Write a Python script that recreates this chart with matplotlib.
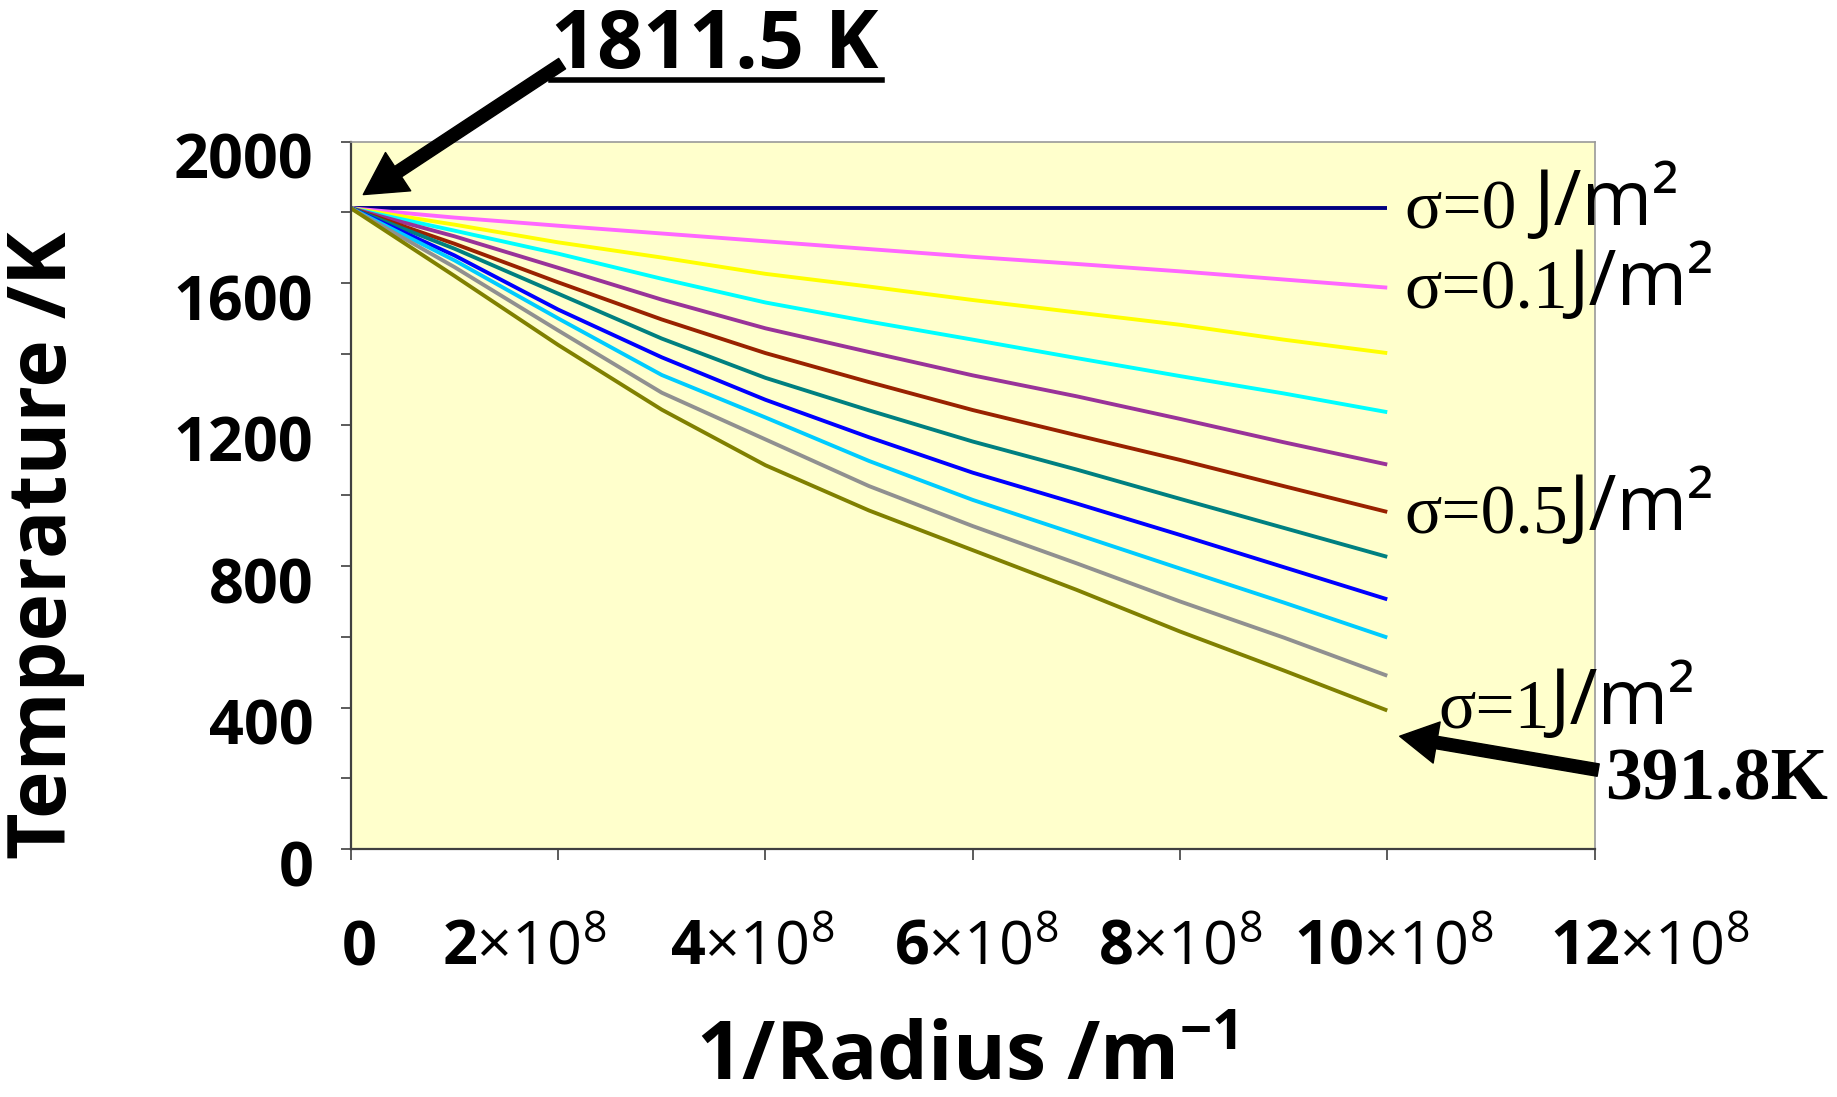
import matplotlib
matplotlib.use('Agg')
import matplotlib.pyplot as plt
import matplotlib.transforms as mtransforms
from matplotlib.lines import Line2D

# 1/radius values (m^-1) and melt temperatures (K) for each surface energy
inv_radius = [0, 1e8, 2e8, 3e8, 4e8, 5e8, 6e8, 7e8, 8e8, 9e8, 10e8]
sigma_values = [0, 0.1, 0.2, 0.3, 0.4, 0.5, 0.6, 0.7, 0.8, 0.9, 1.0]
temp_s00 = [1811.5, 1811.5, 1811.5, 1811.5, 1811.5, 1811.5, 1811.5, 1811.5, 1811.5, 1811.5, 1811.5]
temp_s01 = [1811.5, 1785, 1762, 1740, 1718, 1696, 1674, 1654, 1633, 1610, 1587]
temp_s02 = [1811.5, 1765, 1715, 1672, 1626, 1590, 1552, 1517, 1482, 1440, 1402]
temp_s03 = [1811.5, 1748, 1683, 1612, 1545, 1491, 1440, 1388, 1337, 1288, 1235]
temp_s04 = [1811.5, 1732, 1643, 1553, 1472, 1405, 1339, 1280, 1216, 1150, 1087]
temp_s05 = [1811.5, 1711, 1602, 1497, 1402, 1320, 1241, 1170, 1100, 1026, 953]
temp_s06 = [1811.5, 1697, 1570, 1443, 1332, 1240, 1152, 1073, 990, 908, 826]
temp_s07 = [1811.5, 1678, 1525, 1390, 1270, 1164, 1064, 977, 888, 797, 706]
temp_s08 = [1811.5, 1664, 1500, 1340, 1220, 1097, 987, 890, 793, 697, 598]
temp_s09 = [1811.5, 1645, 1466, 1290, 1158, 1026, 913, 808, 700, 598, 490]
temp_s10 = [1811.5, 1620, 1425, 1242, 1085, 957, 845, 733, 615, 505, 391.8]

x_ticks = [0, 2e8, 4e8, 6e8, 8e8, 10e8, 12e8]
x_tick_labels = ['0', '2', '4', '6', '8', '10', '12']
y_ticks = [0, 400, 800, 1200, 1600, 2000]

colors = ['#000080', '#FF66FF', '#FFFF00', '#00FFFF', '#993399', '#992200',
          '#008080', '#0000FF', '#00CCFF', '#909090', '#808000']

series = [temp_s00, temp_s01, temp_s02, temp_s03, temp_s04, temp_s05,
          temp_s06, temp_s07, temp_s08, temp_s09, temp_s10]

SANS = 'Open Sans'
SERIF = 'Liberation Serif'

plt.rcParams['mathtext.fontset'] = 'custom'
plt.rcParams['mathtext.rm'] = 'Open Sans'
plt.rcParams['mathtext.it'] = 'Open Sans'
plt.rcParams['mathtext.bf'] = 'Open Sans:bold'

fig = plt.figure(figsize=(18.37, 10.97), dpi=100)
ax = fig.add_axes([0.191, 0.226, 0.677, 0.645])
ax.set_facecolor('#FFFFCC')

for temps, color in zip(series, colors):
    ax.plot(inv_radius, temps, color=color, linewidth=2.8,
            solid_capstyle='butt', solid_joinstyle='round')

ax.set_xlim(0, 12e8)
ax.set_ylim(0, 2000)
ax.set_xticks(x_ticks)
xlabels = ax.set_xticklabels(
    [r'$\mathbf{%s}$×10$^{8}$' % t if t != '0' else r'$\mathbf{0}$' for t in x_tick_labels],
    fontsize=44, family=SANS)
ax.set_yticks(y_ticks)
ax.set_yticks(range(200, 2000, 400), minor=True)
ax.set_yticklabels([str(v) for v in y_ticks], fontsize=44, fontweight='bold', family=SANS)
ax.tick_params(axis='y', which='both', direction='out', length=7, width=1.2, pad=20, color='#404040')
ax.tick_params(axis='x', which='both', direction='out', length=8, width=1.2, pad=42, color='#404040')

# nudge tick labels like the original layout
offset = mtransforms.ScaledTranslation(0, -14 / 100, fig.dpi_scale_trans)
for lab in ax.get_yticklabels():
    lab.set_transform(lab.get_transform() + offset)
x_shift_px = [8, -34, -13, 4, 0, 6, 55]
for lab, dx in zip(xlabels, x_shift_px):
    lab.set_transform(lab.get_transform() +
                      mtransforms.ScaledTranslation(dx / 100, 0, fig.dpi_scale_trans))

for side in ['left', 'bottom']:
    ax.spines[side].set_color('#404040')
    ax.spines[side].set_linewidth(1.6)
for side in ['top', 'right']:
    ax.spines[side].set_color('#999999')
    ax.spines[side].set_linewidth(1.2)

ax.set_ylabel('Temperature /K', fontsize=58, fontweight='bold', family=SANS)
ax.yaxis.set_label_coords(-0.214, 0.43)
ax.set_xlabel(r'1/Radius /m$^{\mathbf{-1}}$', fontsize=58, fontweight='bold', family=SANS)
ax.xaxis.set_label_coords(0.495, -0.24)

# sigma labels: serif part + sans unit part
sigma_labels = [('σ=0 ', 10.17e8, 1712), ('σ=0.1', 10.17e8, 1486),
                ('σ=0.5', 10.17e8, 850), ('σ=1', 10.49e8, 302)]
for txt, xpos, ypos in sigma_labels:
    t1 = ax.text(xpos, ypos, txt, fontsize=50, family=SERIF, va='bottom', ha='left')
    ax.annotate('J/m²', xy=(1, 0), xycoords=t1, fontsize=55, family=SANS,
                va='bottom', ha='left')

# 1811.5 K callout
fig.text(0.300, 0.938, '1811.5 K', fontsize=58, fontweight='bold', family=SANS,
         va='baseline', ha='left')
fig.add_artist(Line2D([0.300, 0.480], [0.927, 0.927], transform=fig.transFigure,
                      color='black', linewidth=4))
ax.annotate('', xy=(0.12e8, 1850), xycoords='data',
            xytext=(0.306, 0.942), textcoords='figure fraction',
            arrowprops=dict(arrowstyle='simple,head_length=1.0,head_width=1.1,tail_width=0.3',
                            mutation_scale=30, color='black', shrinkA=0, shrinkB=0))

# 391.8K callout
fig.text(0.874, 0.271, '391.8K', fontsize=53, fontweight='bold', family=SERIF,
         va='baseline', ha='left')
ax.annotate('', xy=(10.12e8, 319), xycoords='data',
            xytext=(0.870, 0.298), textcoords='figure fraction',
            arrowprops=dict(arrowstyle='simple,head_length=0.9,head_width=1.0,tail_width=0.3',
                            mutation_scale=30, color='black', shrinkA=0, shrinkB=0))

plt.savefig('out.png', dpi=100)
